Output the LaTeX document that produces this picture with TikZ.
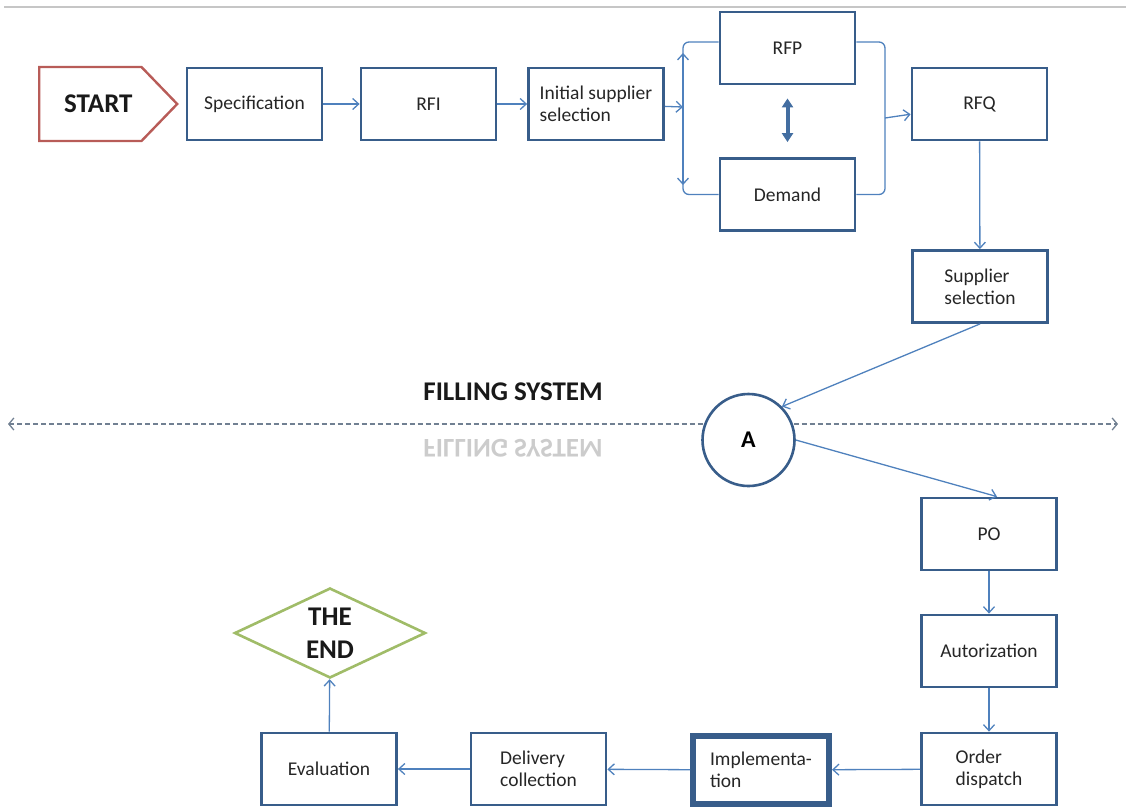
\documentclass[tikz,border=0pt]{standalone}
\usepackage{fontspec}
\setmainfont{Carlito}
\usetikzlibrary{arrows.meta,shapes.geometric,shapes.symbols}
\definecolor{boxblue}{HTML}{385D8A}
\definecolor{lineblue}{HTML}{4F81BD}
\definecolor{startred}{HTML}{B85C58}
\definecolor{endgreen}{HTML}{A0BC68}

\begin{document}
\begin{tikzpicture}[x=1pt,y=-1pt,>={Straight Barb[length=6pt,width=11pt]},
  box/.style={draw=boxblue,line width=2.8pt,fill=white,minimum width=135pt,minimum height=72pt,
    align=left,text=black!85,font=\fontsize{19.5}{22}\selectfont,inner sep=2pt},
  conn/.style={draw=lineblue,line width=1.3pt},
  dbl/.style={draw=lineblue!85!black,line width=4pt,{Triangle[length=9pt,width=11pt]}-{Triangle[length=9pt,width=11pt]}},
  sep/.style={draw=gray!70!lineblue,line width=1.3pt,dash pattern=on 5pt off 3pt},
  big/.style={font=\fontsize{27}{33}\selectfont\bfseries,text=black!90,align=center}]
\useasboundingbox (0,0) rectangle (1126,807);
\draw[gray!45,line width=1.2pt] (4,7) -- (1126,7);

% filling system line
\coordinate (dl) at (8,424);
\coordinate (dr) at (1118,424);
\draw[sep,<->,>={Straight Barb[length=5pt,width=12pt]}] (dl) -- (dr);
\node[big] (fs) at (513,392) {FILLING SYSTEM};
\node[big,text=gray!40] (fsr) at (513,448) {\scalebox{1}[-1]{FILLING SYSTEM}};

\path
(38,104)     node[signal,signal to=east,signal pointer angle=92,draw=startred,line width=2.4pt,
               minimum width=138pt,minimum height=74pt,anchor=west,big] (start) {\hspace*{16pt}START}
(254.5,104)  node[box] (spec) {Specification}
(428.5,104)  node[box] (rfi) {RFI}
(596,104)    node[box] (init) {Initial supplier\\selection}
(787.5,48)   node[box] (rfp) {RFP}
(787.5,194.5) node[box] (dem) {Demand}
(979.5,104)  node[box] (rfq) {RFQ}
(980,286.5)  node[box] (sup) {Supplier\\selection}
(748.5,440)  node[circle,draw=boxblue,line width=2.6pt,fill=white,minimum size=92pt,
               font=\fontsize{24}{28}\selectfont\bfseries] (A) {A}
(989,534)    node[box] (po) {PO}
(989,651)    node[box] (aut) {Autorization}
(989,769)    node[box] (ord) {Order\\dispatch}
(761,770)    node[box,line width=6pt,minimum width=136pt,minimum height=68pt] (imp) {Implementa-\\tion}
(538.5,769)  node[box] (del) {Delivery\\collection}
(329,769)    node[box] (eva) {Evaluation}
(330,633)    node[diamond,aspect=2.1,draw=endgreen,line width=2.6pt,inner sep=0pt,
               minimum width=191pt,minimum height=90pt,big] (end) {THE\\END};

\coordinate (lb) at (683,107);
\coordinate (lbt) at (683,53);
\coordinate (lbb) at (683,185);
\coordinate (rb) at (885,118);

\draw[conn,->] (spec) -- (rfi);
\draw[conn,->] (rfi) -- (init);
\draw[conn,->] (init) -- (lb);
\draw[conn,rounded corners=6pt] ([yshift=6pt]rfp.west) -| (lb) |- (dem.west);
\draw[conn,->] (lb) -- (lbt);
\draw[conn,->] (lb) -- (lbb);
\draw[conn,rounded corners=6pt] ([yshift=6pt]rfp.east) -| (rb) |- (dem.east);
\draw[conn,->] (rb) -- (rfq);
\draw[dbl] ([yshift=-13pt]rfp.south) -- ([yshift=15pt]dem.north);
\draw[conn,->] (rfq) -- (sup);
\draw[conn,->] (sup.south) -- (A.45);
\draw[conn,->] (A.east) -- ([xshift=8pt]po.north);
\draw[conn,->] (po) -- (aut);
\draw[conn,->] (aut) -- (ord);
\draw[conn,->] (ord) -- (imp);
\draw[conn,->] (imp) -- (del);
\draw[conn,->] (del) -- (eva);
\draw[conn,->] (eva) -- (end);
\end{tikzpicture}
\end{document}
